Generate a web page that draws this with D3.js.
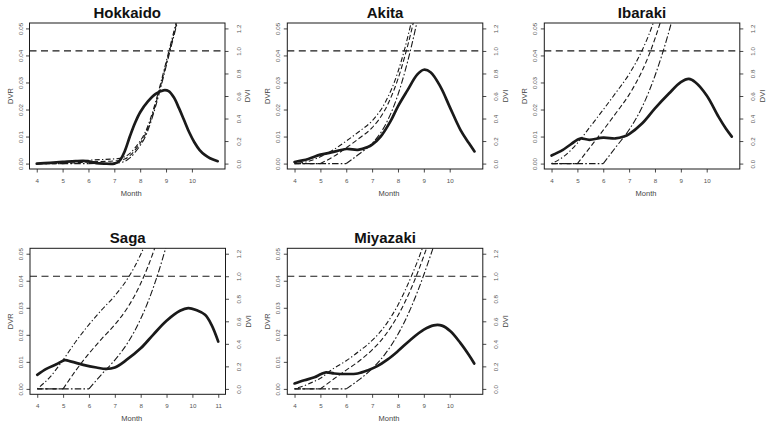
<!DOCTYPE html>
<html><head><meta charset="utf-8">
<script src="https://cdn.jsdelivr.net/npm/d3@7"></script>
<style>body{margin:0;background:#fff;} svg{display:block;font-family:"Liberation Sans",Arial,Helvetica,sans-serif;}</style>
</head><body><svg id="c" width="774" height="429"></svg>
<script>
// ---------- data ----------
const regions = ["Hokkaido", "Akita", "Ibaraki", "Saga", "Miyazaki"];
const monthTicks = [4, 5, 6, 7, 8, 9, 10];
const monthTicksSaga = [4, 5, 6, 7, 8, 9, 10, 11];
const dvrTicks = [0, 0.01, 0.02, 0.03, 0.04, 0.05];
const dviTicks = [0, 0.2, 0.4, 0.6, 0.8, 1.0, 1.2];
const dviThreshold = 1.0;

// DVR curves [month, DVR]
const hokkaidoDVR = [[4,0],[4.5,0.0003],[5,0.0006],[5.5,0.0009],[5.8,0.001],[6,0.0008],[6.3,0.0002],[6.6,0],[7,0],[7.2,0.001],[7.4,0.0045],[7.6,0.01],[7.8,0.015],[8,0.019],[8.3,0.023],[8.6,0.0258],[8.9,0.0271],[9.1,0.0268],[9.3,0.0245],[9.5,0.0205],[9.7,0.016],[9.9,0.0115],[10.1,0.0078],[10.3,0.005],[10.5,0.0032],[10.7,0.002],[11,0.0009]];
const akitaDVR = [[4,0.0006],[4.53,0.0017],[5,0.0033],[5.42,0.0041],[6,0.0054],[6.45,0.0051],[6.83,0.0061],[7,0.007],[7.33,0.01],[7.73,0.016],[8,0.0212],[8.36,0.027],[8.75,0.033],[9,0.0347],[9.26,0.0338],[9.65,0.0283],[10,0.021],[10.42,0.0124],[10.74,0.0076],[10.96,0.0045]];
const ibarakiDVR = [[4,0.003],[4.44,0.0051],[5,0.0088],[5.14,0.0093],[5.46,0.0088],[6,0.0096],[6.47,0.0093],[6.8,0.01],[7,0.0109],[7.51,0.0149],[8,0.0204],[8.54,0.0259],[9,0.0301],[9.31,0.0313],[9.56,0.0301],[10,0.0252],[10.46,0.0173],[10.74,0.013],[10.97,0.01]];
const sagaDVR = [[4,0.0052],[4.35,0.0074],[4.74,0.0091],[5.06,0.0106],[5.32,0.0101],[5.78,0.0089],[6.29,0.0079],[6.67,0.0074],[7,0.0079],[7.45,0.0107],[8,0.015],[8.48,0.02],[9,0.0252],[9.52,0.0289],[9.84,0.0299],[10.16,0.0291],[10.49,0.0274],[10.74,0.0237],[11,0.0175]];
const miyazakiDVR = [[4,0.002],[4.38,0.0032],[4.77,0.0043],[5.03,0.0055],[5.22,0.0061],[5.54,0.0057],[6,0.0055],[6.44,0.0057],[6.82,0.0068],[7.2,0.0084],[7.59,0.0108],[7.99,0.0139],[8.49,0.0182],[9,0.0219],[9.38,0.0235],[9.7,0.0234],[10.03,0.0213],[10.41,0.017],[10.73,0.0127],[10.95,0.0094]];

// DVI curves [month, DVI] for transplanting in April (A), May (B), June (C)
const hokkaidoDVI_A = [[4,0],[5,0.012],[6,0.03],[7,0.042],[7.2,0.046],[7.4,0.06],[7.6,0.09],[7.8,0.14],[8,0.2],[8.2,0.28],[8.4,0.4],[8.6,0.55],[8.8,0.72],[9,0.9],[9.2,1.08],[9.4,1.26]];
const hokkaidoDVI_B = [[4,0],[5,0],[6,0.014],[7,0.024],[7.2,0.028],[7.4,0.04],[7.6,0.07],[7.8,0.12],[8,0.18],[8.2,0.26],[8.4,0.38],[8.6,0.53],[8.8,0.7],[9,0.88],[9.2,1.06],[9.4,1.24],[9.45,1.29]];
const hokkaidoDVI_C = [[4,0],[6,0],[7,0.004],[7.2,0.008],[7.4,0.02],[7.6,0.05],[7.8,0.1],[8,0.16],[8.2,0.24],[8.4,0.36],[8.6,0.51],[8.8,0.68],[9,0.86],[9.2,1.04],[9.4,1.22],[9.5,1.31]];
const akitaDVI_A = [[4,0],[4.5,0.018],[5,0.06],[5.5,0.122],[6,0.2],[6.5,0.285],[7,0.38],[7.5,0.54],[8,0.815],[8.25,1.01],[8.5,1.24],[8.65,1.38]];
const akitaDVI_B = [[4,0],[5,0],[5.5,0.062],[6,0.14],[6.5,0.225],[7,0.319],[7.5,0.478],[8,0.752],[8.25,0.941],[8.5,1.161],[8.75,1.413]];
const akitaDVI_C = [[4,0],[6,0],[6.5,0.085],[7,0.179],[7.5,0.338],[8,0.612],[8.25,0.801],[8.5,1.021],[8.75,1.273]];
const ibarakiDVI_A = [[4,0],[4.5,0.068],[5,0.182],[5.5,0.329],[6,0.479],[6.5,0.633],[7,0.794],[7.5,1.004],[7.75,1.136],[8,1.291]];
const ibarakiDVI_B = [[4,0],[5,0],[5.5,0.147],[6,0.297],[6.5,0.451],[7,0.612],[7.5,0.822],[7.75,0.954],[8,1.109],[8.25,1.286]];
const ibarakiDVI_C = [[4,0],[6,0],[6.5,0.15],[7,0.3],[7.5,0.5],[7.75,0.63],[8,0.78],[8.25,0.95],[8.5,1.14],[8.75,1.35]];
const sagaDVI_A = [[4,0],[4.5,0.107],[5,0.257],[5.5,0.423],[6,0.571],[6.5,0.703],[7,0.827],[7.5,0.981],[7.75,1.078],[8,1.193],[8.25,1.325]];
const sagaDVI_B = [[4,0],[5,0],[5.5,0.166],[6,0.314],[6.5,0.446],[7,0.57],[7.5,0.724],[7.75,0.821],[8,0.936],[8.25,1.068],[8.5,1.221],[8.75,1.395]];
const sagaDVI_C = [[4,0],[6,0],[6.5,0.132],[7,0.256],[7.5,0.41],[7.75,0.507],[8,0.622],[8.25,0.754],[8.5,0.907],[8.75,1.081],[9,1.276]];
const miyazakiDVI_A = [[4,0],[4.5,0.04],[5,0.095],[5.5,0.18],[6,0.25],[6.5,0.335],[7,0.43],[7.5,0.56],[8,0.745],[8.5,0.99],[8.75,1.13],[9,1.285],[9.25,1.45]];
const miyazakiDVI_B = [[4,0],[5,0],[5.5,0.085],[6,0.167],[6.5,0.248],[7,0.346],[7.5,0.475],[8,0.652],[8.5,0.886],[8.75,1.026],[9,1.18],[9.25,1.345]];
const miyazakiDVI_C = [[4,0],[6,0],[6.5,0.082],[7,0.179],[7.5,0.309],[8,0.485],[8.5,0.719],[8.75,0.86],[9,1.013],[9.25,1.178],[9.5,1.349]];

const panelData = [
  {name: regions[0], dvr: hokkaidoDVR, dvi: [hokkaidoDVI_A, hokkaidoDVI_B, hokkaidoDVI_C], ticks: monthTicks},
  {name: regions[1], dvr: akitaDVR, dvi: [akitaDVI_A, akitaDVI_B, akitaDVI_C], ticks: monthTicks},
  {name: regions[2], dvr: ibarakiDVR, dvi: [ibarakiDVI_A, ibarakiDVI_B, ibarakiDVI_C], ticks: monthTicks},
  {name: regions[3], dvr: sagaDVR, dvi: [sagaDVI_A, sagaDVI_B, sagaDVI_C], ticks: monthTicksSaga},
  {name: regions[4], dvr: miyazakiDVR, dvi: [miyazakiDVI_A, miyazakiDVI_B, miyazakiDVI_C], ticks: monthTicks}
];

// ---------- layout ----------
const boxes = [{x:29.5,y:23},{x:287.3,y:23},{x:544.3,y:23},{x:30,y:248.3},{x:287.3,y:248.3}];
const W = 195.5, H = 146;
const dviDash = ["1.3,2.3,5,2.3", "5,2.6", "6.5,2.2,1.6,2.2"];
const ink = "#1a1a1a", tickInk = "#555";

const svg = d3.select("#c");

panelData.forEach((p, i) => {
  const b = boxes[i];
  const g = svg.append("g").attr("transform", `translate(${b.x},${b.y})`);
  const x = d3.scaleLinear().domain([3.72, 11.28]).range([0, W]);
  const yL = d3.scaleLinear().domain([-0.002, 0.052]).range([H, 0]);
  const yR = d3.scaleLinear().domain([-0.048, 1.248]).range([H, 0]);

  const clipId = "clip" + i;
  g.append("clipPath").attr("id", clipId).append("rect")
    .attr("x", 0).attr("y", 0).attr("width", W).attr("height", H);

  // axes
  const styleAxis = sel => {
    sel.select(".domain").remove();
    sel.selectAll(".tick line").attr("stroke", ink).attr("stroke-width", 0.8);
    sel.selectAll(".tick text").attr("fill", tickInk).style("font-size", "6.2px");
  };
  g.append("g").attr("transform", `translate(0,${H})`)
    .call(d3.axisBottom(x).tickValues(p.ticks).tickSize(3.5).tickPadding(6).tickFormat(d3.format("d")))
    .call(styleAxis);
  g.append("g")
    .call(d3.axisLeft(yL).tickValues(dvrTicks).tickSize(3.5).tickFormat(d3.format(".2f")))
    .call(styleAxis)
    .call(s => s.selectAll(".tick text").attr("transform", "rotate(-90)")
      .attr("x", 0).attr("y", -7).attr("dy", 0).attr("text-anchor", "middle"));
  g.append("g").attr("transform", `translate(${W},0)`)
    .call(d3.axisRight(yR).tickValues(dviTicks).tickSize(3.5).tickFormat(d3.format(".1f")))
    .call(styleAxis)
    .call(s => s.selectAll(".tick text").attr("transform", "rotate(-90)")
      .attr("x", 0).attr("y", 15.5).attr("dy", 0).attr("text-anchor", "middle"));

  // frame
  g.append("rect").attr("width", W).attr("height", H)
    .attr("fill", "none").attr("stroke", ink).attr("stroke-width", 1);

  const plot = g.append("g").attr("clip-path", `url(#${clipId})`);

  // DVI = 1 threshold
  plot.append("line").attr("x1", 0).attr("x2", W)
    .attr("y1", yR(dviThreshold)).attr("y2", yR(dviThreshold))
    .attr("stroke", ink).attr("stroke-width", 1.2).attr("stroke-dasharray", "7,4.5");

  // DVI curves: flat zero part and rising part drawn as separate pieces (kink at start date)
  const dviLine = d3.line().x(d => x(d[0])).y(d => yR(d[1])).curve(d3.curveMonotoneX);
  p.dvi.forEach((s, k) => {
    let z = 0;
    while (z + 1 < s.length && s[z + 1][1] === 0) z++;
    const pieces = z > 0 ? [s.slice(0, z + 1), s.slice(z)] : [s];
    pieces.forEach(piece => {
      plot.append("path").attr("d", dviLine(piece)).attr("fill", "none")
        .attr("stroke", ink).attr("stroke-width", 1.1).attr("stroke-dasharray", dviDash[k]);
    });
  });

  // DVR curve
  const dvrLine = d3.line().x(d => x(d[0])).y(d => yL(d[1])).curve(d3.curveCatmullRom.alpha(0.5));
  plot.append("path").attr("d", dvrLine(p.dvr)).attr("fill", "none")
    .attr("stroke", ink).attr("stroke-width", 2.7).attr("stroke-linejoin", "round").attr("stroke-linecap", "round");

  // titles and labels
  g.append("text").attr("x", W / 2).attr("y", -5.5).attr("text-anchor", "middle")
    .style("font-size", "15px").style("font-weight", "bold").attr("fill", "#111").text(p.name);
  g.append("text").attr("x", W / 2 + 4).attr("y", H + 27).attr("text-anchor", "middle")
    .style("font-size", "7.5px").attr("fill", "#444").text("Month");
  g.append("text").attr("transform", `translate(-17,${H / 2}) rotate(-90)`).attr("text-anchor", "middle")
    .style("font-size", "7.5px").attr("fill", "#444").text("DVR");
  g.append("text").attr("transform", `translate(${W + 25},${H / 2}) rotate(-90)`).attr("text-anchor", "middle")
    .style("font-size", "7.5px").attr("fill", "#444").text("DVI");
});
</script>
</body></html>
